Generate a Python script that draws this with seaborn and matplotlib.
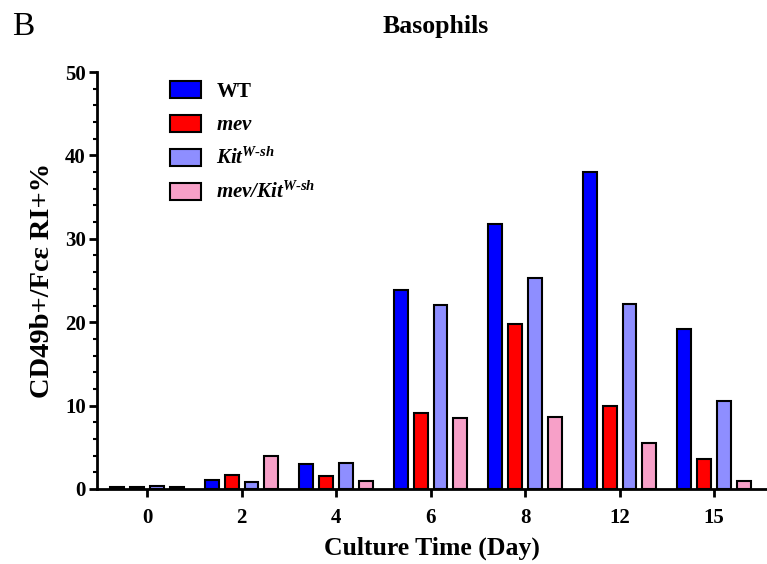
import matplotlib
matplotlib.use('Agg')
import matplotlib.pyplot as plt
import seaborn as sns
import pandas as pd
from matplotlib.ticker import MultipleLocator

# 값
days = ['0', '2', '4', '6', '8', '12', '15']
wt = [0.2, 1.1, 3.0, 23.9, 31.8, 38.0, 19.2]
mev = [0.25, 1.7, 1.6, 9.1, 19.8, 10.0, 3.6]
kit = [0.3, 0.85, 3.1, 22.1, 25.3, 22.2, 10.6]
mev_kit = [0.2, 4.0, 0.9, 8.5, 8.6, 5.5, 0.9]

groups = ['WT', 'mev', 'KitWsh', 'mevKitWsh']
labels = [r'$\mathbf{WT}$', r'$\mathbfit{mev}$',
          r'$\mathbfit{Kit}^{\mathbfit{W\text{-}sh}}$',
          r'$\mathbfit{mev/Kit}^{\mathbfit{W\text{-}sh}}$']
colors = ['#0000FF', '#FF0000', '#8E8EFF', '#F7A0C8']

df = pd.DataFrame({'day': days, 'WT': wt, 'mev': mev, 'KitWsh': kit, 'mevKitWsh': mev_kit})
df = df.melt(id_vars='day', var_name='group', value_name='value')

sns.set_style('ticks', {'axes.edgecolor': 'black', 'text.color': 'black',
                        'xtick.color': 'black', 'ytick.color': 'black',
                        'axes.labelcolor': 'black'})
plt.rcParams['font.family'] = ['Liberation Serif', 'DejaVu Serif']
plt.rcParams['mathtext.fontset'] = 'custom'
plt.rcParams['mathtext.rm'] = 'Liberation Serif'
plt.rcParams['mathtext.it'] = 'Liberation Serif:italic'
plt.rcParams['mathtext.bf'] = 'Liberation Serif:bold'
plt.rcParams['mathtext.bfit'] = 'Liberation Serif:italic:bold'

fig = plt.figure(figsize=(7.67, 5.64), dpi=100)
ax = fig.add_axes([97 / 767, 75 / 564, 670 / 767, 417 / 564])

sns.barplot(data=df, x='day', y='value', hue='group', order=days, hue_order=groups,
            palette=colors, saturation=1, width=0.84, gap=0.3, edgecolor='black',
            linewidth=1.5, errorbar=None, ax=ax)

ax.set_xlim(-0.53, 6.56)
ax.set_ylim(0, 50)
ax.yaxis.set_major_locator(MultipleLocator(10))
ax.yaxis.set_minor_locator(MultipleLocator(2))
sns.despine(ax=ax)
for s in ['left', 'bottom']:
    ax.spines[s].set_linewidth(2)
ax.tick_params(axis='both', which='major', width=2, length=6, labelsize=15)
ax.tick_params(axis='x', which='major', pad=8)
ax.tick_params(axis='y', which='major', pad=2)
ax.tick_params(axis='y', which='minor', width=1.5, length=3)
for t in ax.get_xticklabels() + ax.get_yticklabels():
    t.set_fontweight('bold')

ax.set_xlabel('Culture Time (Day)', fontsize=18.5, fontweight='bold', labelpad=6)
ax.set_ylabel('CD49b+/Fcε RI+%', fontsize=20.5, fontweight='bold', labelpad=7)

h, _ = ax.get_legend_handles_labels()
ax.legend(h, labels, loc='upper left', bbox_to_anchor=(0.109, 0.978), frameon=False,
          fontsize=15, handlelength=1.5, handleheight=0.9, labelspacing=0.6,
          handletextpad=0.7, borderpad=0, borderaxespad=0)

fig.text(436 / 767, 1 - 27 / 564, 'Basophils', ha='center', va='center',
         fontsize=18.5, fontweight='bold')
fig.text(12 / 767, 1 - 27 / 564, 'B', ha='left', va='center', fontsize=24)

fig.savefig('out.png', dpi=100)
